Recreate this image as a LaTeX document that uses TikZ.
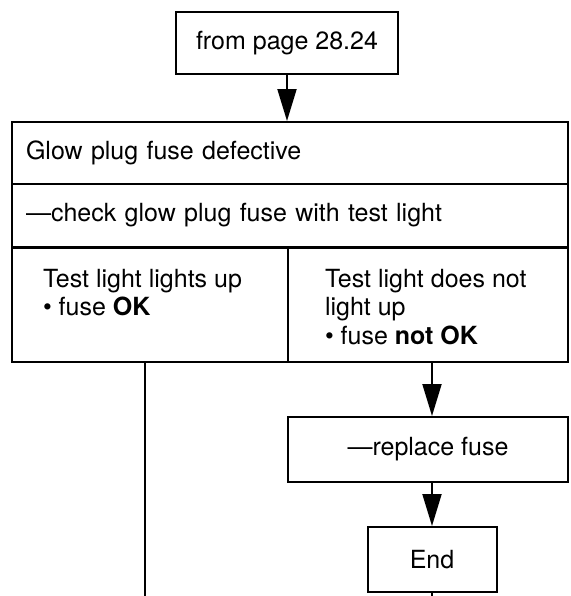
\documentclass[tikz,border=0pt]{standalone}
\usepackage{fontspec}
\setmainfont{TeX Gyre Heros}
\usetikzlibrary{positioning, calc, arrows.meta}

\begin{document}
\begin{tikzpicture}[x=0.5pt, y=-0.5pt, line width=1pt,
    every node/.style={font=\fontsize{12.5}{14.3}\selectfont},
    cell/.style={draw, rectangle, inner sep=0pt},
    rowcell/.style={cell, minimum width=278pt, text width=264pt, inner xsep=7pt, align=left},
    txt/.style={inner sep=0pt, align=left},
    arr/.style={-{Triangle[length=16pt, width=9.5pt]}}]
  \useasboundingbox (0,0) rectangle (570,596);
  % entry box
  \node[cell, minimum width=111pt, minimum height=31pt] (from) at (287,43) {from page 28.24};
  % main table
  \node[rowcell, minimum height=31pt] (glow) at (290,153) {Glow plug fuse defective};
  \node[rowcell, minimum height=31.5pt] (check) at (290,215.5) {---check glow plug fuse with test light};
  \node[cell, minimum width=138pt, minimum height=57pt] (okcell) at (150,305) {};
  \node[cell, minimum width=140pt, minimum height=57pt] (nokcell) at (428,305) {};
  \node[txt, below right=10.5pt and 15.5pt of okcell.north west] (oktxt)
    {Test light lights up\\\textbullet\ fuse \textbf{OK}};
  \node[txt, below right=10.5pt and 18.5pt of nokcell.north west] (noktxt)
    {Test light does not\\light up\\\textbullet\ fuse \textbf{not OK}};
  % right branch
  \node[cell, minimum width=140pt, minimum height=32.5pt] (replace) at (428,449.5) {---replace fuse};
  \node[cell, minimum width=64.5pt, minimum height=32.5pt] (end) at (432,559.5) {End};
  \coordinate (bottom) at (145,596);

  \draw[arr] (from.south) -- (from.south |- glow.north);
  \draw[arr] (nokcell.south -| end.north) -- (replace.north -| end.north);
  \draw[arr] (replace.south -| end.north) -- (end.north);
  \draw (okcell.south -| bottom) -- (bottom);
  \draw (end.south) -- (end.south |- bottom);
\end{tikzpicture}
\end{document}
